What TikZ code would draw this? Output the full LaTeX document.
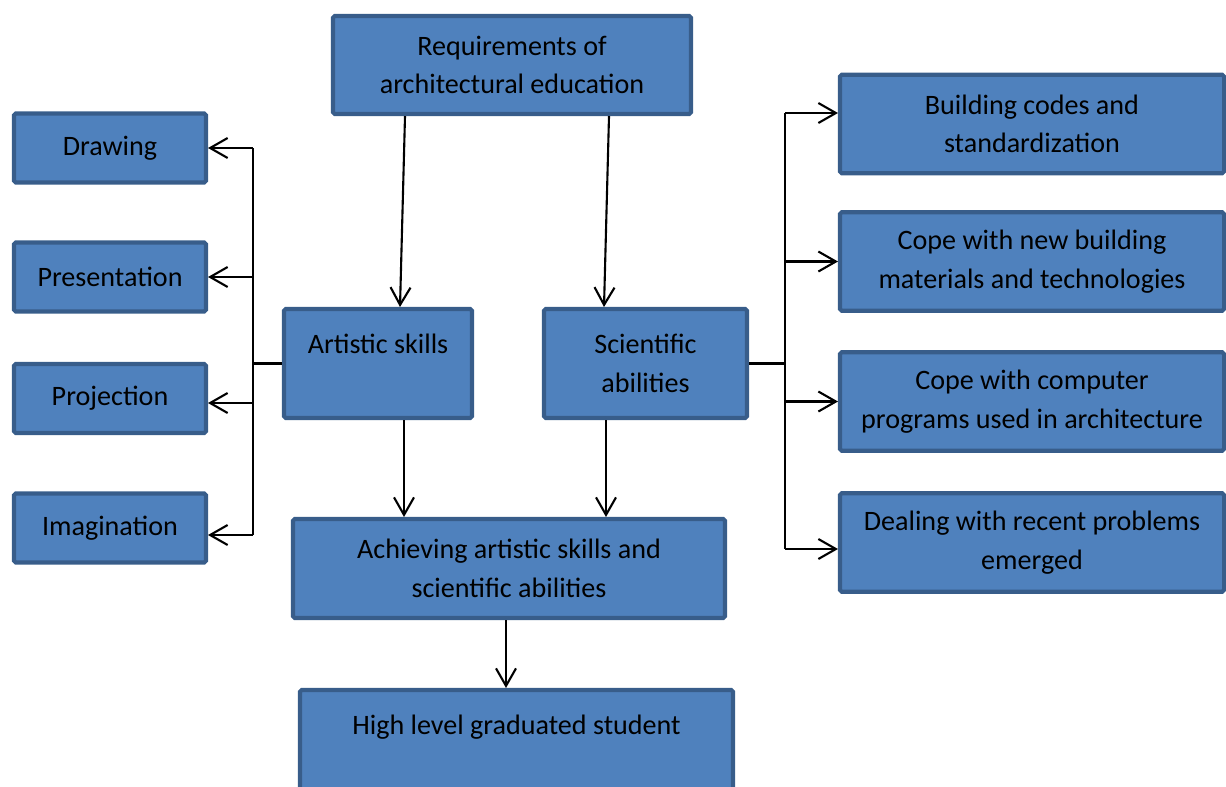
\documentclass[tikz,border=0pt]{standalone}
\usepackage{fontspec}
\setmainfont{Carlito}
\usetikzlibrary{arrows.meta}
\definecolor{boxfill}{HTML}{4F81BD}
\definecolor{boxline}{HTML}{385D8A}
\tikzset{
  block/.style={draw=boxline, fill=boxfill, line width=2.3pt, rounded corners=1pt,
    align=center, inner sep=0pt, font=\fontsize{16}{22}\selectfont},
  link/.style={line width=1.2pt, -{Straight Barb[length=3.5mm,width=4mm]}},
  bus/.style={line width=1.2pt}
}
\begin{document}
\begin{tikzpicture}
\useasboundingbox (0,0) rectangle (24.52,-15.72);
\node[block, minimum width=7.16cm, minimum height=1.96cm] (req) at (10.24,-1.3)
{Requirements of\\architectural education};
\node[block, minimum width=3.84cm, minimum height=1.38cm] (drawing) at (2.2,-2.96) {Drawing};
\node[block, minimum width=3.84cm, minimum height=1.38cm] (present) at (2.2,-5.54) {Presentation};
\node[block, minimum width=3.84cm, minimum height=1.38cm] (project) at (2.2,-7.97) {Projection};
\node[block, minimum width=3.84cm, minimum height=1.38cm] (imagine) at (2.2,-10.56) {Imagination};
\node[block, minimum width=3.76cm, minimum height=2.18cm] (art) at (7.56,-7.27) {Artistic skills\\~};
\node[block, minimum width=4.06cm, minimum height=2.18cm] (sci) at (12.91,-7.27) {Scientific\\abilities};
\node[block, minimum width=8.64cm, minimum height=1.98cm] (achieve) at (10.18,-11.37)
{Achieving artistic skills and\\scientific abilities};
\node[block, minimum width=8.66cm, minimum height=2.18cm] (grad) at (10.33,-14.89)
{High level graduated student\\~};
\node[block, minimum width=7.68cm, minimum height=1.97cm] (codes) at (20.64,-2.48)
{Building codes and\\standardization};
\node[block, minimum width=7.68cm, minimum height=1.97cm] (materials) at (20.64,-5.23)
{Cope with new building\\materials and technologies};
\node[block, minimum width=7.68cm, minimum height=1.97cm] (programs) at (20.64,-8.03)
{Cope with computer\\programs used in architecture};
\node[block, minimum width=7.68cm, minimum height=1.97cm] (problems) at (20.64,-10.85)
{Dealing with recent problems\\emerged};

\draw[link] ([xshift=-2.14cm]req.south) -- ([xshift=0.44cm]art.north);
\draw[link] ([xshift=1.94cm]req.south) -- ([xshift=-0.83cm]sci.north);
\draw[link] ([xshift=0.52cm]art.south) -- ([xshift=0.52cm]art.south |- achieve.north);
\draw[link] ([xshift=-0.79cm]sci.south) -- ([xshift=-0.79cm]sci.south |- achieve.north);
\draw[link] ([xshift=-0.06cm]achieve.south) -- ([xshift=-0.06cm]achieve.south |- grad.north);

\coordinate (lbus) at (5.06,-7.27);
\draw[bus] (art.west) -- (lbus);
\draw[bus] (lbus |- drawing.east) -- ([yshift=-0.14cm]lbus |- imagine.east);
\draw[link] (lbus |- drawing.east) -- (drawing.east);
\draw[link] (lbus |- present.east) -- (present.east);
\draw[link] ([yshift=-0.09cm]lbus |- project.east) -- ([yshift=-0.09cm]project.east);
\draw[link] ([yshift=-0.14cm]lbus |- imagine.east) -- ([yshift=-0.14cm]imagine.east);

\coordinate (rbus) at (15.7,-7.27);
\draw[bus] (sci.east) -- (rbus);
\draw[bus] ([yshift=0.22cm]rbus |- codes.west) -- ([yshift=-0.13cm]rbus |- problems.west);
\draw[link] ([yshift=0.22cm]rbus |- codes.west) -- ([yshift=0.22cm]codes.west);
\draw[link] (rbus |- materials.west) -- (materials.west);
\draw[link] (rbus |- programs.west) -- (programs.west);
\draw[link] ([yshift=-0.13cm]rbus |- problems.west) -- ([yshift=-0.13cm]problems.west);
\end{tikzpicture}
\end{document}
